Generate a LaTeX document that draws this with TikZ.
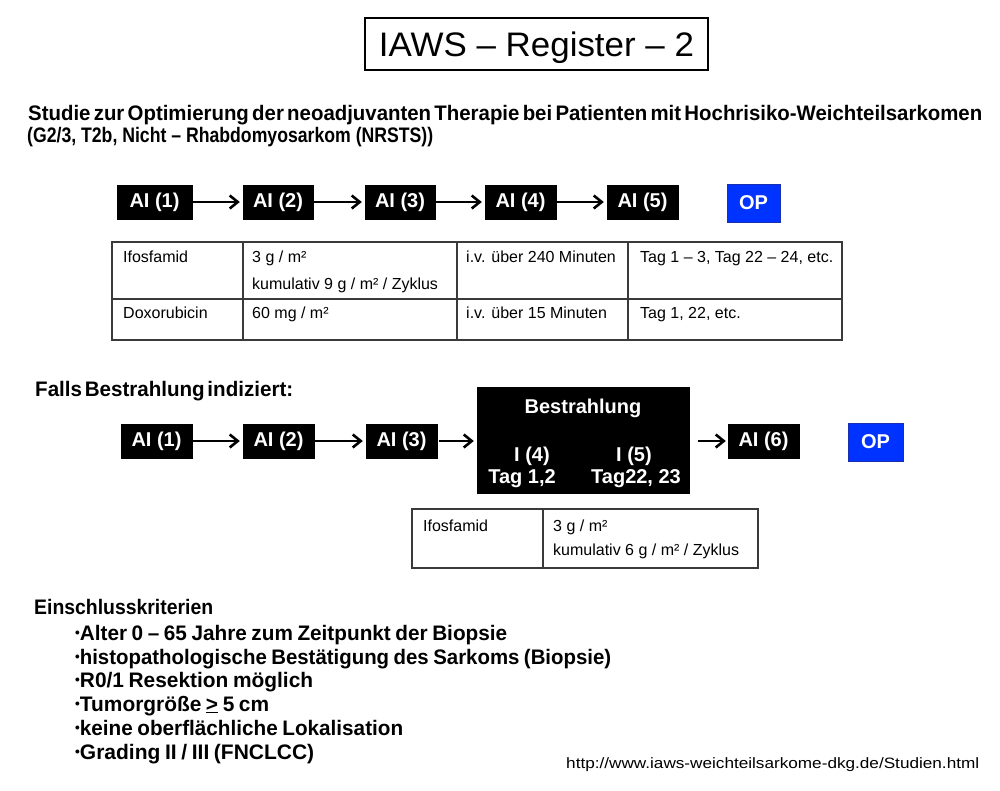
\documentclass[tikz,border=0pt]{standalone}
\usepackage{fontspec}
\setmainfont{Liberation Sans}
\usepackage{graphicx}
\usetikzlibrary{positioning,calc,arrows.meta}
\definecolor{iawsBlue}{HTML}{0033FF}
\definecolor{iawsBlueLine}{HTML}{1A2FB0}
\definecolor{iawsRule}{HTML}{3A3A3A}
% squeeze a line of text to a given width, keep its height
\newcommand{\squeeze}[2]{\resizebox{#1}{\height}{#2}}
% same, with narrow word spaces
\newcommand{\tightline}[3][0.13em]{\resizebox{#2}{\height}{\spaceskip=#1\relax #3}}
% small list bullet
\newcommand{\critdot}{\raisebox{0.12em}{\scalebox{0.65}{•}}}
\tikzset{
  cycle box/.style={
    rectangle, fill=black, draw=black,
    text=white, font=\fontsize{20}{24}\selectfont\bfseries,
    minimum width=#1, minimum height=34pt, inner sep=0pt,
  },
  op box/.style={
    rectangle, fill=iawsBlue, draw=iawsBlueLine, line width=1pt,
    text=white, font=\fontsize{20}{24}\selectfont\bfseries,
    minimum width=#1, minimum height=38pt, inner sep=0pt,
  },
  flow arrow/.style={
    line width=2.6pt,
    -{Straight Barb[length=8pt,width=13pt,line width=2.6pt]},
  },
  inner text/.style={
    anchor=base, inner sep=0pt, text=white,
    font=\fontsize{20}{24}\selectfont\bfseries,
  },
  head line/.style={
    anchor=base west, inner sep=0pt,
    font=\fontsize{21}{24}\selectfont\bfseries,
  },
  item line/.style={
    anchor=base west, inner sep=0pt,
    font=\fontsize{21}{24}\selectfont\bfseries,
  },
  tab text/.style={
    anchor=base west, inner sep=0pt,
    font=\fontsize{16}{18}\selectfont,
  },
  tab rule/.style={draw=iawsRule, line width=1.1pt},
}

\begin{document}
\begin{tikzpicture}[x=1pt,y=-1pt]
\useasboundingbox[fill=white] (0,0) rectangle (1000,790);

% --- title ---
\node[draw=black, line width=1.2pt, minimum width=343pt, minimum height=52pt,
      inner sep=0pt, text depth=0pt, font=\fontsize{34}{40}\selectfont]
  (title) at (536.5,44) {\squeeze{315pt}{IAWS -- Register -- 2}};

% --- study line ---
\node[head line] (study1) at (28,120)
  {\tightline[0.16em]{954pt}{Studie zur Optimierung der neoadjuvanten Therapie bei Patienten mit Hochrisiko-Weichteilsarkomen}};
\node[head line] (study2) at (27,142)
  {\squeeze{406pt}{(G2/3, T2b, Nicht -- Rhabdomyosarkom (NRSTS))}};

% --- schedule without radiation ---
\node[cycle box=75pt] (a1) at (154.5,202) {AI (1)};
\node[cycle box=70pt] (a2) at (278,202) {AI (2)};
\node[cycle box=70pt] (a3) at (400,202) {AI (3)};
\node[cycle box=71pt] (a4) at (520.5,202) {AI (4)};
\node[cycle box=71pt] (a5) at (642.5,202) {AI (5)};
\node[op box=53pt] (op1) at (753.5,203) {OP};
\foreach \from/\to in {a1/a2,a2/a3,a3/a4,a4/a5}
  \draw[flow arrow, shorten >=3pt] (\from) -- (\to);

% --- dosage table 1 ---
\draw[tab rule] (112,242) rectangle (842,340);
\draw[tab rule] (112,299) -- (842,299);
\foreach \cx in {243,457,628}
  \draw[tab rule] (\cx,242) -- (\cx,340);
\node[tab text] (t1a) at (123,262) {Ifosfamid};
\node[tab text] (t1b) at (252,262) {3 g / m²};
\node[tab text] (t1c) at (252,289) {kumulativ 9 g / m² / Zyklus};
\node[tab text] (t1d) at (466,262) {i.v. über 240 Minuten};
\node[tab text] (t1e) at (640,262) {Tag 1 -- 3, Tag 22 -- 24, etc.};
\node[tab text] (t1f) at (123,318) {Doxorubicin};
\node[tab text] (t1g) at (252,318) {60 mg / m²};
\node[tab text] (t1h) at (466,318) {i.v. über 15 Minuten};
\node[tab text] (t1i) at (640,318) {Tag 1, 22, etc.};

% --- schedule with radiation ---
\node[head line] (falls) at (35,396) {\tightline{258pt}{Falls Bestrahlung indiziert:}};
\node[cycle box=71pt] (b1) at (156.5,441) {AI (1)};
\node[cycle box=71pt] (b2) at (278.5,441) {AI (2)};
\node[cycle box=71pt] (b3) at (401.5,441) {AI (3)};
\node[rectangle, fill=black, minimum width=213pt, minimum height=107pt, inner sep=0pt]
  (bs) at (583.5,440.5) {};
\node[inner text] (bs title) at (583,413) {Bestrahlung};
\node[inner text] (bs i4) at (532,461) {I (4)};
\node[inner text] (bs t4) at (522,483) {Tag 1,2};
\node[inner text] (bs i5) at (634,461) {I (5)};
\node[inner text] (bs t5) at (636,483) {Tag22, 23};
\node[cycle box=71pt] (b6) at (763.5,441) {AI (6)};
\node[op box=55pt] (op2) at (875.5,442) {OP};
\foreach \from/\to in {b1/b2,b2/b3}
  \draw[flow arrow, shorten >=3pt] (\from) -- (\to);
\draw[flow arrow, shorten <=2pt, shorten >=3pt] (b3.east) -- (b3.east -| bs.west);
\draw[flow arrow, shorten <=8pt, shorten >=2pt] (b6.west -| bs.east) -- (b6.west);

% --- dosage table 2 ---
\draw[tab rule] (412,509) rectangle (758,568);
\draw[tab rule] (543,509) -- (543,568);
\node[tab text] (t2a) at (423,531) {Ifosfamid};
\node[tab text] (t2b) at (553,531) {3 g / m²};
\node[tab text] (t2c) at (553,555) {kumulativ 6 g / m² / Zyklus};

% --- inclusion criteria ---
\node[item line] (crit) at (34,614) {\tightline{179pt}{Einschlusskriterien}};
\node[item line] (c1) at (75,640) {\tightline[0.22em]{432pt}{\critdot Alter 0 -- 65 Jahre zum Zeitpunkt der Biopsie}};
\node[item line] (c2) at (75,664) {\tightline[0.22em]{536pt}{\critdot histopathologische Bestätigung des Sarkoms (Biopsie)}};
\node[item line] (c3) at (75,687) {\tightline[0.22em]{238pt}{\critdot R0/1 Resektion möglich}};
\node[item line] (c4) at (75,711) {\tightline[0.22em]{194pt}{\critdot Tumorgröße \underline{>} 5 cm}};
\node[item line] (c5) at (75,735) {\tightline[0.22em]{328pt}{\critdot keine oberflächliche Lokalisation}};
\node[item line] (c6) at (75,759) {\tightline[0.22em]{239pt}{\critdot Grading II / III (FNCLCC)}};

% --- source ---
\node[tab text, font=\fontsize{15}{18}\selectfont] (url) at (566,768)
  {\squeeze{413pt}{http://www.iaws-weichteilsarkome-dkg.de/Studien.html}};

\end{tikzpicture}
\end{document}
